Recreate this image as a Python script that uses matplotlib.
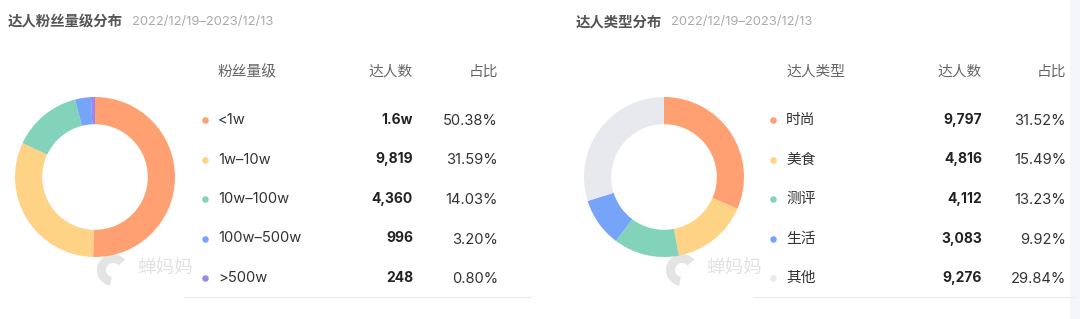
import matplotlib
matplotlib.use("Agg")
import matplotlib.pyplot as plt
from matplotlib.patches import Wedge

plt.rcParams['font.family'] = ['Inter', 'Noto Sans CJK SC', 'DejaVu Sans']

# left panel: fan levels
fan_title = "达人粉丝量级分布"
fan_labels = ["<1w", "1w–10w", "10w–100w", "100w–500w", ">500w"]
fan_counts = ["1.6w", "9,819", "4,360", "996", "248"]
fan_share = [50.38, 31.59, 14.03, 3.20, 0.80]
fan_colors = ["#FFA072", "#FFD386", "#82D3B9", "#76A4F8", "#9C86F6"]

# right panel: creator types
type_title = "达人类型分布"
type_labels = ["时尚", "美食", "测评", "生活", "其他"]
type_counts = ["9,797", "4,816", "4,112", "3,083", "9,276"]
type_share = [31.52, 15.49, 13.23, 9.92, 29.84]
type_colors = ["#FFA072", "#FFD386", "#82D3B9", "#76A4F8", "#E8E9EF"]

date_range = "2022/12/19–2023/12/13"

W, H = 1080, 319
fig = plt.figure(figsize=(W / 100, H / 100), dpi=100)
bg = fig.add_axes([0, 0, 1, 1])
bg.set_xlim(0, W)
bg.set_ylim(H, 0)
bg.axis("off")

# faint strip on the right edge
bg.axvspan(1070, 1080, color="#F5F6F9", lw=0, zorder=0)

CJK = ['Noto Sans CJK SC', 'DejaVu Sans']


def donut(cx, cy, r, values, colors):
    ax = fig.add_axes([(cx - r) / W, (H - cy - r) / H, 2 * r / W, 2 * r / H])
    ax.pie(values, colors=colors, startangle=90, counterclock=False,
           radius=1, wedgeprops=dict(width=0.34, linewidth=0))
    ax.set_xlim(-1, 1)
    ax.set_ylim(-1, 1)
    ax.axis("off")


def watermark(x, y):
    # rough logo mark plus brand text
    bg.add_patch(Wedge((x - 24, y + 2), 16, 100, 320, width=9,
                       color="#E4E4E4", lw=0, zorder=3))
    bg.text(x, y, "蝉妈妈", fontsize=13.4, color="#E2E2E2", va="center",
            family=CJK, zorder=3)


def panel(x0, title, head, labels, counts, shares, colors,
          dot_x, cnt_x, pct_x, line_x):
    bg.text(x0, 22, title, fontsize=10.4, color="#555555",
            fontweight="bold", va="center", family=CJK)
    bg.text(x0 + len(title) * 14.6 + 7, 22, date_range, fontsize=9.4,
            color="#ABABAB", va="center")
    bg.text(dot_x + 13, 72, head, fontsize=10.6, color="#666666",
            va="center", family=CJK)
    bg.text(cnt_x, 72, "达人数", fontsize=10.6, color="#666666",
            va="center", ha="right", family=CJK)
    bg.text(pct_x, 72, "占比", fontsize=10.6, color="#666666",
            va="center", ha="right", family=CJK)
    for i, (lab, cnt, pct, col) in enumerate(zip(labels, counts, shares, colors)):
        y = 120 + i * 39.5
        bg.scatter([dot_x], [y], s=22, color=col, lw=0)
        bg.text(dot_x + 13, y, lab, fontsize=10.6, color="#333333", va="center")
        bg.text(cnt_x, y, cnt, fontsize=10, color="#222222",
                fontweight="bold", va="center", ha="right")
        bg.text(pct_x, y + 1, f"{pct:.2f}%", fontsize=10.6, color="#333333",
                va="center", ha="right")
    bg.plot(line_x, [297, 297], color="#EEEEEE", lw=1)


donut(95, 177, 80, fan_share, fan_colors)
donut(664, 177, 80, type_share, type_colors)

panel(8, fan_title, "粉丝量级", fan_labels, fan_counts, fan_share, fan_colors,
      205, 413, 498, [184, 531])
panel(576, type_title, "达人类型", type_labels, type_counts, type_share,
      type_colors, 773, 982, 1066, [753, 1075])

watermark(137, 268)
watermark(706, 268)

fig.savefig("out.png", dpi=100)
